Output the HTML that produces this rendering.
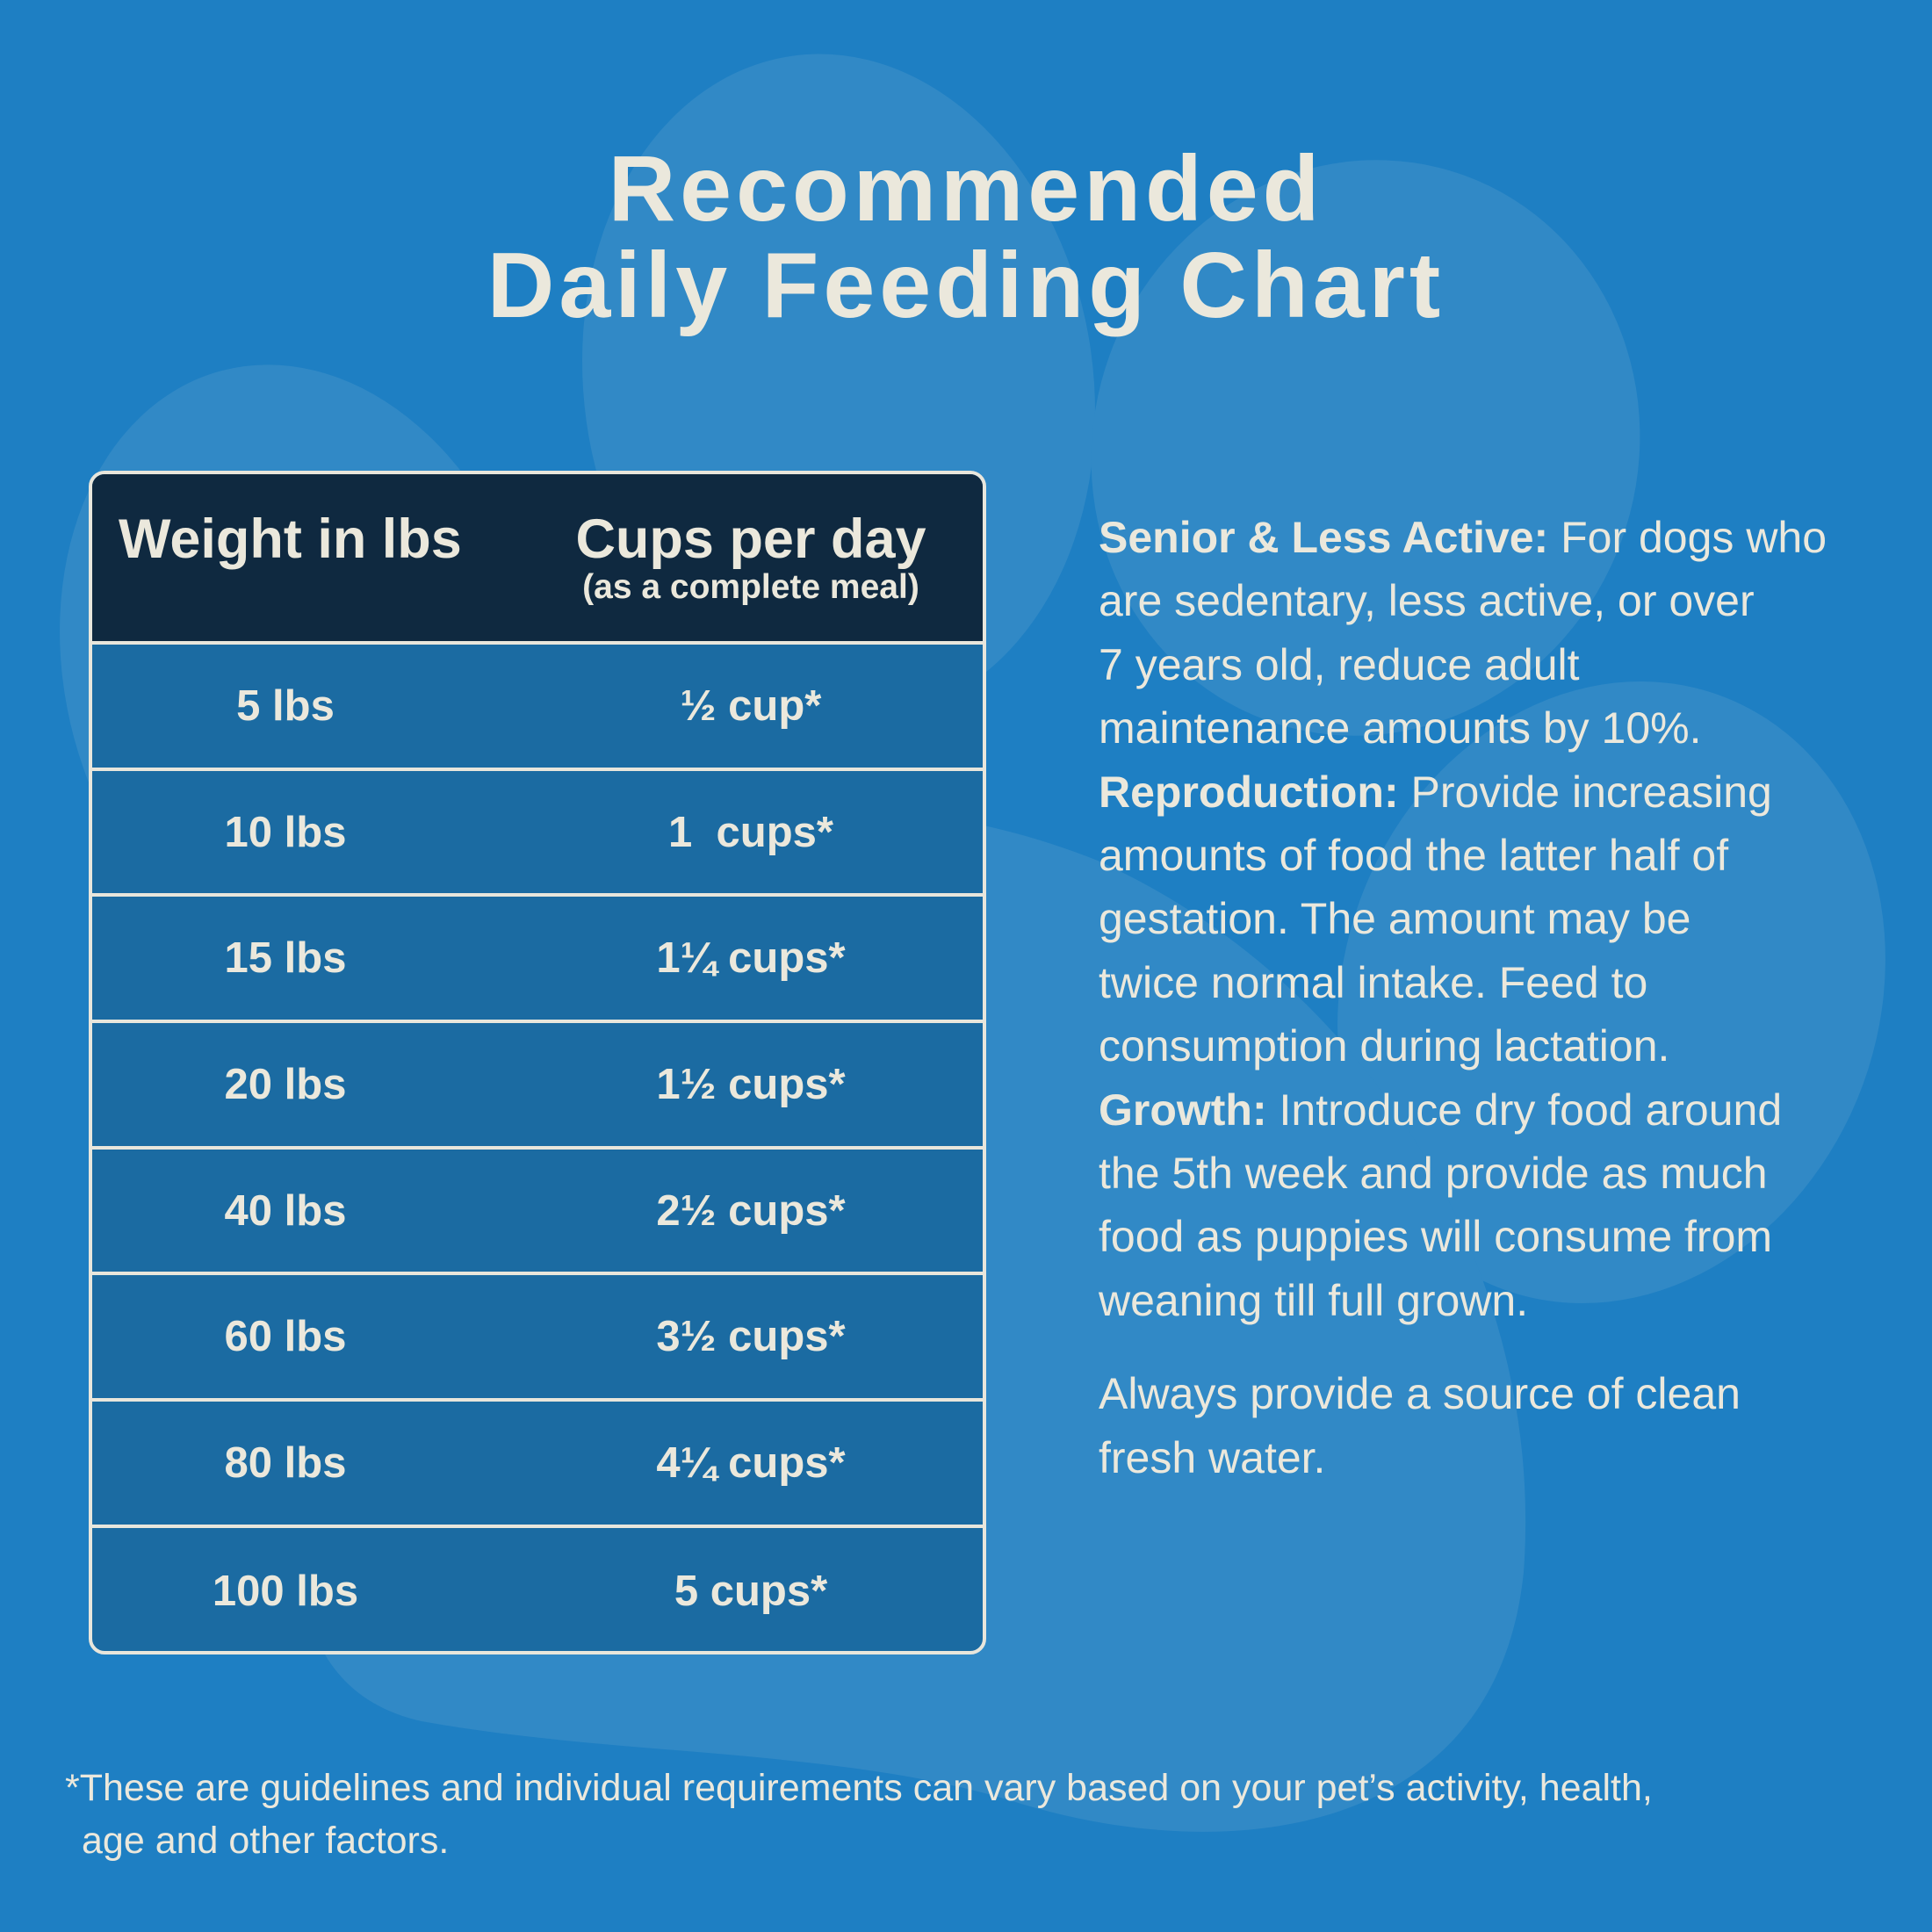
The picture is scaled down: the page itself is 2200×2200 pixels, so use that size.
<!DOCTYPE html>
<html><head><meta charset="utf-8"><style>
*{margin:0;padding:0;box-sizing:border-box}
body{width:2200px;height:2200px;background:#1e7fc3;position:relative;overflow:hidden;font-family:"Liberation Sans",sans-serif;color:#ebe8dc}
svg.bg{position:absolute;left:0;top:0}
.t{position:absolute;left:0;width:2200px;text-align:center;font-weight:bold;font-size:106px;letter-spacing:5px}
.tbl{position:absolute;left:101px;top:536px;width:1022px;height:1348px;border:4px solid #e8e6dc;border-radius:18px;overflow:hidden;background:#1b6ba2}
.hd{height:194px;background:#0f2940;position:relative;border-bottom:4px solid #e8e6dc}
.row{height:143.7px;border-bottom:4px solid #e8e6dc;position:relative}
.row:last-child{border-bottom:none}
.c1,.c2{position:absolute;top:0;height:100%;display:flex;align-items:center;justify-content:center;font-weight:bold;font-size:49px}
.c1{left:0;width:440px}.c2{left:550px;width:400px}
.r{position:absolute;left:1251px;font-size:50px;line-height:72.4px;white-space:nowrap}
.r b{font-weight:bold}
.f{position:absolute;left:74px;font-size:43px;line-height:60px;white-space:nowrap}
</style></head><body>
<svg class="bg" width="2200" height="2200">
<g fill="#3189c6">
<ellipse cx="955" cy="440" rx="290" ry="380" transform="rotate(-8 955 440)"/>
<ellipse cx="1555" cy="510" rx="310" ry="330" transform="rotate(20 1555 510)"/>
<ellipse cx="1835" cy="1130" rx="305" ry="360" transform="rotate(20 1835 1130)"/>
<ellipse cx="345" cy="770" rx="270" ry="360" transform="rotate(-15 345 770)"/>
<path d="M540 1100 C 700 900, 1000 880, 1250 980 C 1560 1120, 1760 1450, 1735 1790 C 1705 2090, 1400 2130, 1150 2050 C 950 1990, 700 2000, 480 1960 C 300 1920, 320 1700, 400 1500 C 450 1370, 460 1210, 540 1100 Z"/>
</g></svg>
<div class="t" style="top:155px">Recommended</div>
<div class="t" style="top:265px">Daily Feeding Chart</div>
<div class="tbl">
<div class="hd">
<div style="position:absolute;left:30px;top:38px;font-weight:bold;font-size:63px">Weight in lbs</div>
<div style="position:absolute;left:510px;width:480px;top:38px;text-align:center;font-weight:bold;font-size:63px">Cups per day</div>
<div style="position:absolute;left:510px;width:480px;top:107px;text-align:center;font-weight:bold;font-size:39px">(as a complete meal)</div>
</div>
<div class="row"><div class="c1">5 lbs</div><div class="c2">½ cup*</div></div>
<div class="row"><div class="c1">10 lbs</div><div class="c2">1&nbsp; cups*</div></div>
<div class="row"><div class="c1">15 lbs</div><div class="c2">1¼ cups*</div></div>
<div class="row"><div class="c1">20 lbs</div><div class="c2">1½ cups*</div></div>
<div class="row"><div class="c1">40 lbs</div><div class="c2">2½ cups*</div></div>
<div class="row"><div class="c1">60 lbs</div><div class="c2">3½ cups*</div></div>
<div class="row"><div class="c1">80 lbs</div><div class="c2">4¼ cups*</div></div>
<div class="row"><div class="c1">100 lbs</div><div class="c2">5 cups*</div></div>
</div>
<div class="r" style="top:576px">
<div><b>Senior &amp; Less Active:</b> For dogs who</div>
<div>are sedentary, less active, or over</div>
<div>7 years old, reduce adult</div>
<div>maintenance amounts by 10%.</div>
<div><b>Reproduction:</b> Provide increasing</div>
<div>amounts of food the latter half of</div>
<div>gestation. The amount may be</div>
<div>twice normal intake. Feed to</div>
<div>consumption during lactation.</div>
<div><b>Growth:</b> Introduce dry food around</div>
<div>the 5th week and provide as much</div>
<div>food as puppies will consume from</div>
<div>weaning till full grown.</div>
<div style="margin-top:34px">Always provide a source of clean</div>
<div>fresh water.</div>
</div>
<div class="f" style="top:2006px">*These are guidelines and individual requirements can vary based on your pet’s activity, health,</div>
<div class="f" style="top:2066px;left:93px">age and other factors.</div>
</body></html>
